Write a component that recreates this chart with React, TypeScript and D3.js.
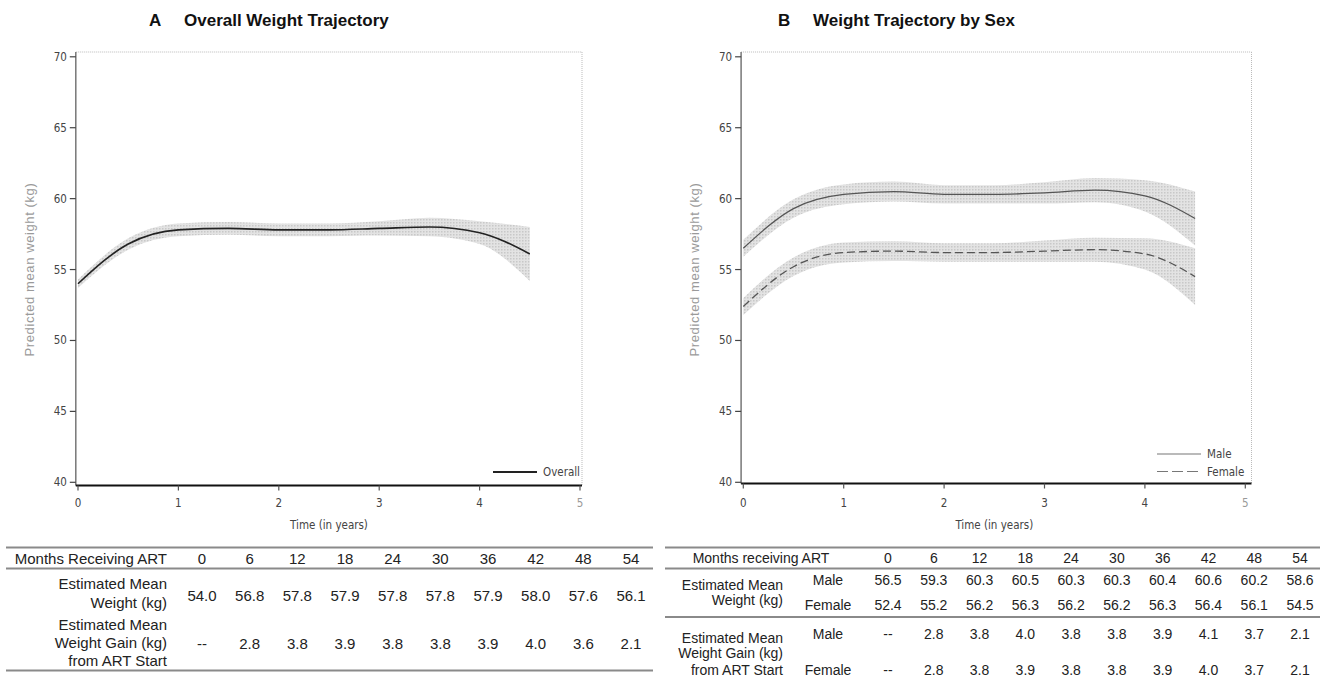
import React from 'react';
import * as d3 from 'd3';

// months on ART (table columns) and estimated weights read from the tables
const months = [0, 6, 12, 18, 24, 30, 36, 42, 48, 54];
const overallWeight = [54.0, 56.8, 57.8, 57.9, 57.8, 57.8, 57.9, 58.0, 57.6, 56.1];
const overallGain = ['--', '2.8', '3.8', '3.9', '3.8', '3.8', '3.9', '4.0', '3.6', '2.1'];
const maleWeight = [56.5, 59.3, 60.3, 60.5, 60.3, 60.3, 60.4, 60.6, 60.2, 58.6];
const femaleWeight = [52.4, 55.2, 56.2, 56.3, 56.2, 56.2, 56.3, 56.4, 56.1, 54.5];
const maleGain = ['--', '2.8', '3.8', '4.0', '3.8', '3.8', '3.9', '4.1', '3.7', '2.1'];
const femaleGain = ['--', '2.8', '3.8', '3.9', '3.8', '3.8', '3.9', '4.0', '3.7', '2.1'];

// half widths of the shaded confidence bands
const overallCI = [0.3, 0.4, 0.45, 0.45, 0.45, 0.45, 0.5, 0.65, 0.8, 1.9];
const maleCI = [0.6, 0.65, 0.7, 0.7, 0.65, 0.65, 0.75, 0.85, 1.1, 1.9];
const femaleCI = [0.6, 0.65, 0.7, 0.7, 0.65, 0.65, 0.75, 0.85, 1.1, 2.0];

const xTicks = [0, 1, 2, 3, 4, 5];
const yTicks = [40, 45, 50, 55, 60, 65, 70];

const W = 1321;
const H = 682;
const narrow = "'Liberation Sans Narrow', 'DejaVu Sans Condensed', 'Liberation Sans', sans-serif";
const sans = "'Liberation Sans', Arial, sans-serif";

type Series = { values: number[]; ci: number[]; dash?: string; color: string; width: number };

const Panel = ({ x0, axisY, frameRight, letter, title, titleX, series, legend, legX }: {
  x0: number; axisY: number; frameRight: number; letter: string; title: string; titleX: number;
  series: Series[]; legend: { label: string; dash?: string; color: string; width: number }[]; legX: number;
}) => {
  const x = d3.scaleLinear().domain([0, 5]).range([x0, x0 + 502]);
  const y = d3.scaleLinear().domain([40, 70]).range([482.3, 56.8]);
  const axisX = x0 - 2.2;
  const top = 52;
  const pts = months.map((m) => m / 12);

  const line = d3.line<number>()
    .x((_, i) => x(pts[i]))
    .y((d) => y(d))
    .curve(d3.curveMonotoneX);

  const area = (s: Series) => d3.area<number>()
    .x((_, i) => x(pts[i]))
    .y0((d, i) => y(d - s.ci[i]))
    .y1((d, i) => y(d + s.ci[i]))
    .curve(d3.curveMonotoneX)(s.values);

  const legTop = legend.length > 1 ? 454 : 472;

  return (
    <g>
      <text x={titleX} y={26} fontFamily={sans} fontWeight="bold" fontSize={17} fill="#111">{letter}</text>
      <text x={titleX + 35} y={26} fontFamily={sans} fontWeight="bold" fontSize={17} fill="#111">{title}</text>

      {/* frame */}
      <line x1={axisX} x2={frameRight} y1={top} y2={top} stroke="#bbb" strokeDasharray="1,1" />
      <line x1={frameRight} x2={frameRight} y1={top} y2={axisY} stroke="#bbb" strokeDasharray="1,1" />

      {series.map((s, i) => (
        <path key={'a' + i} d={area(s) || ''} fill="url(#stip)" />
      ))}
      {series.map((s, i) => (
        <path key={'l' + i} d={line(s.values) || ''} fill="none" stroke={s.color}
          strokeWidth={s.width} strokeDasharray={s.dash} />
      ))}

      {/* y axis */}
      <line x1={axisX} x2={axisX} y1={top} y2={axisY} stroke="#777" strokeWidth={1.5} />
      {yTicks.map((t) => (
        <g key={t}>
          <line x1={axisX - 6} x2={axisX} y1={y(t)} y2={y(t)} stroke="#444" strokeWidth={1.2} />
          <text x={axisX - 9} y={y(t) + 4} textAnchor="end" fontFamily={narrow} fontSize={11.5} fill="#444">{t}</text>
        </g>
      ))}
      <text transform={`translate(${axisX - 42},${y(55)}) rotate(-90)`} textAnchor="middle"
        fontFamily={sans} fontSize={13} letterSpacing={0.6} fill="#9a9a9a">Predicted mean weight (kg)</text>

      {/* x axis */}
      <line x1={axisX} x2={frameRight} y1={axisY} y2={axisY} stroke="#111" strokeWidth={2} />
      {xTicks.map((t) => (
        <g key={t}>
          <line x1={x(t)} x2={x(t)} y1={axisY} y2={axisY + 5} stroke="#555" strokeWidth={1.2} />
          <text x={x(t)} y={507} textAnchor="middle" fontFamily={narrow} fontSize={11.5}
            fill={t === 5 ? '#999' : '#444'}>{t}</text>
        </g>
      ))}
      <text x={x(2.5)} y={529} textAnchor="middle" fontFamily={narrow} fontSize={11.5} fill="#444">Time (in years)</text>

      {/* legend */}
      {legend.map((l, i) => (
        <g key={l.label}>
          <line x1={legX} x2={legX + 44} y1={legTop + i * 17.5} y2={legTop + i * 17.5}
            stroke={l.color} strokeWidth={l.width} strokeDasharray={l.dash} />
          <text x={legX + 50} y={legTop + i * 17.5 + 4} fontFamily={narrow} fontSize={11.5} fill="#444">{l.label}</text>
        </g>
      ))}
    </g>
  );
};

const TableA = () => {
  const col = d3.scalePoint<string>().domain(months.map(String)).range([202, 631]);
  const labelX = 167;
  return (
    <g fontFamily={sans} fontSize={15} fill="#222">
      <line x1={6} x2={653} y1={547.5} y2={547.5} stroke="#8a8a8a" strokeWidth={2.2} />
      <line x1={6} x2={653} y1={568.5} y2={568.5} stroke="#8a8a8a" strokeWidth={2.2} />
      <line x1={6} x2={653} y1={670.5} y2={670.5} stroke="#8a8a8a" strokeWidth={2.2} />
      <text x={labelX} y={563.5} textAnchor="end">Months Receiving ART</text>
      <text x={labelX} y={588.5} textAnchor="end">Estimated Mean</text>
      <text x={labelX} y={607.5} textAnchor="end">Weight (kg)</text>
      <text x={labelX} y={629.5} textAnchor="end">Estimated Mean</text>
      <text x={labelX} y={648} textAnchor="end">Weight Gain (kg)</text>
      <text x={labelX} y={665.5} textAnchor="end">from ART Start</text>
      {months.map((m, i) => (
        <g key={m} textAnchor="middle">
          <text x={col(String(m))} y={563.5}>{m}</text>
          <text x={col(String(m))} y={600.5}>{overallWeight[i].toFixed(1)}</text>
          <text x={col(String(m))} y={648.5}>{overallGain[i]}</text>
        </g>
      ))}
    </g>
  );
};

const TableB = () => {
  const col = d3.scalePoint<string>().domain(months.map(String)).range([888, 1300]);
  const labelX = 783;
  const sexX = 828;
  return (
    <g fontFamily={sans} fontSize={14} fill="#222">
      <line x1={665} x2={1320} y1={547.5} y2={547.5} stroke="#8a8a8a" strokeWidth={2.2} />
      <line x1={665} x2={1320} y1={568.5} y2={568.5} stroke="#8a8a8a" strokeWidth={2.2} />
      <line x1={665} x2={1320} y1={617} y2={617} stroke="#8a8a8a" strokeWidth={2.2} />
      <text x={761} y={563} textAnchor="middle">Months receiving ART</text>
      <text x={labelX} y={589.5} textAnchor="end">Estimated Mean</text>
      <text x={labelX} y={605} textAnchor="end">Weight (kg)</text>
      <text x={labelX} y={642.5} textAnchor="end">Estimated Mean</text>
      <text x={labelX} y={658} textAnchor="end">Weight Gain (kg)</text>
      <text x={labelX} y={674.5} textAnchor="end">from ART Start</text>
      <text x={sexX} y={584.5} textAnchor="middle">Male</text>
      <text x={sexX} y={609.5} textAnchor="middle">Female</text>
      <text x={sexX} y={638.5} textAnchor="middle">Male</text>
      <text x={sexX} y={674.5} textAnchor="middle">Female</text>
      {months.map((m, i) => (
        <g key={m} textAnchor="middle">
          <text x={col(String(m))} y={563}>{m}</text>
          <text x={col(String(m))} y={584.5}>{maleWeight[i].toFixed(1)}</text>
          <text x={col(String(m))} y={609.5}>{femaleWeight[i].toFixed(1)}</text>
          <text x={col(String(m))} y={638.5}>{maleGain[i]}</text>
          <text x={col(String(m))} y={674.5}>{femaleGain[i]}</text>
        </g>
      ))}
    </g>
  );
};

export default function App() {
  return (
    <div style={{ position: 'absolute', left: 0, top: 0 }}>
      <svg width={W} height={H} style={{ display: 'block', background: '#fff' }}>
        <defs>
          <pattern id="stip" width={3} height={3} patternUnits="userSpaceOnUse">
            <rect width={3} height={3} fill="#e3e3e3" />
            <rect width={1.5} height={1.5} fill="#c8c8c8" />
          </pattern>
        </defs>
        <Panel x0={78} axisY={485.5} frameRight={582} letter="A" title="Overall Weight Trajectory" titleX={149}
          series={[{ values: overallWeight, ci: overallCI, color: '#222', width: 1.6 }]}
          legend={[{ label: 'Overall', color: '#222', width: 1.8 }]} legX={493} />
        <Panel x0={743.3} axisY={483.5} frameRight={1251.5} letter="B" title="Weight Trajectory by Sex" titleX={778}
          series={[
            { values: maleWeight, ci: maleCI, color: '#555', width: 1.3 },
            { values: femaleWeight, ci: femaleCI, color: '#555', width: 1.3, dash: '8,4' },
          ]}
          legend={[
            { label: 'Male', color: '#777', width: 1.2 },
            { label: 'Female', color: '#777', width: 1.2, dash: '11,4' },
          ]} legX={1157} />
        <TableA />
        <TableB />
      </svg>
    </div>
  );
}
